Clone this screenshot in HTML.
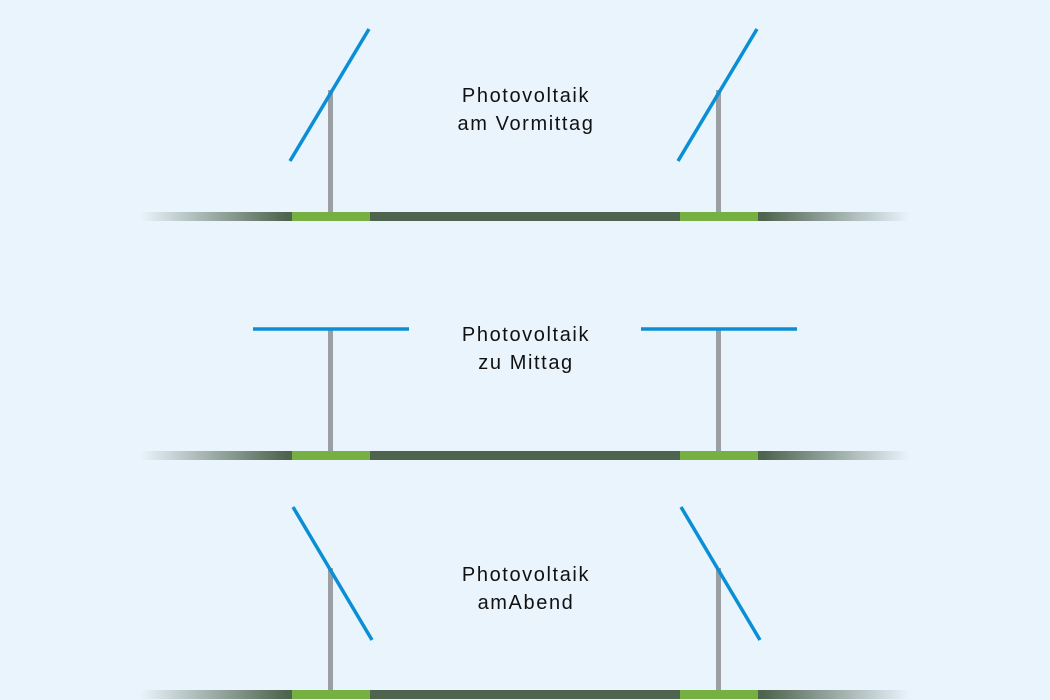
<!DOCTYPE html>
<html><head><meta charset="utf-8"><style>
html,body{margin:0;padding:0;background:#eaf4fd;}
svg{display:block}
text{font-family:"Liberation Sans",sans-serif;font-size:20px;fill:#111;letter-spacing:1.6px}
</style></head><body>
<svg width="1050" height="700" viewBox="0 0 1050 700" xmlns="http://www.w3.org/2000/svg">
<defs>
<linearGradient id="g" x1="140" x2="910" y1="0" y2="0" gradientUnits="userSpaceOnUse">
<stop offset="0" stop-color="#4f644f" stop-opacity="0"/>
<stop offset="0.19" stop-color="#4f644f" stop-opacity="1"/>
<stop offset="0.81" stop-color="#4f644f" stop-opacity="1"/>
<stop offset="1" stop-color="#4f644f" stop-opacity="0"/>
</linearGradient>
<g id="ground">
<rect x="140" y="0" width="770" height="9" fill="url(#g)"/>
<rect x="292" y="0" width="78" height="9" fill="#76b043"/>
<rect x="680" y="0" width="78" height="9" fill="#76b043"/>
</g>
</defs>
<!-- row 1 -->
<rect x="328" y="90" width="5" height="122" fill="#9b9ea3"/>
<rect x="716" y="90" width="5" height="122" fill="#9b9ea3"/>
<use href="#ground" y="212"/>
<line x1="290" y1="161" x2="369" y2="29" stroke="#0a8fd4" stroke-width="3.5"/>
<line x1="678" y1="161" x2="757" y2="29" stroke="#0a8fd4" stroke-width="3.5"/>
<text x="526" y="102" text-anchor="middle">Photovoltaik</text>
<text x="526" y="130" text-anchor="middle">am Vormittag</text>
<!-- row 2 -->
<rect x="328" y="329" width="5" height="122" fill="#9b9ea3"/>
<rect x="716" y="329" width="5" height="122" fill="#9b9ea3"/>
<use href="#ground" y="451"/>
<line x1="253" y1="329" x2="409" y2="329" stroke="#0a8fd4" stroke-width="3.5"/>
<line x1="641" y1="329" x2="797" y2="329" stroke="#0a8fd4" stroke-width="3.5"/>
<text x="526" y="341" text-anchor="middle">Photovoltaik</text>
<text x="526" y="369" text-anchor="middle">zu Mittag</text>
<!-- row 3 -->
<rect x="328" y="568" width="5" height="122" fill="#9b9ea3"/>
<rect x="716" y="568" width="5" height="122" fill="#9b9ea3"/>
<use href="#ground" y="690"/>
<line x1="293" y1="507" x2="372" y2="640" stroke="#0a8fd4" stroke-width="3.5"/>
<line x1="681" y1="507" x2="760" y2="640" stroke="#0a8fd4" stroke-width="3.5"/>
<text x="526" y="581" text-anchor="middle">Photovoltaik</text>
<text x="526" y="609" text-anchor="middle">amAbend</text>
</svg>
</body></html>
